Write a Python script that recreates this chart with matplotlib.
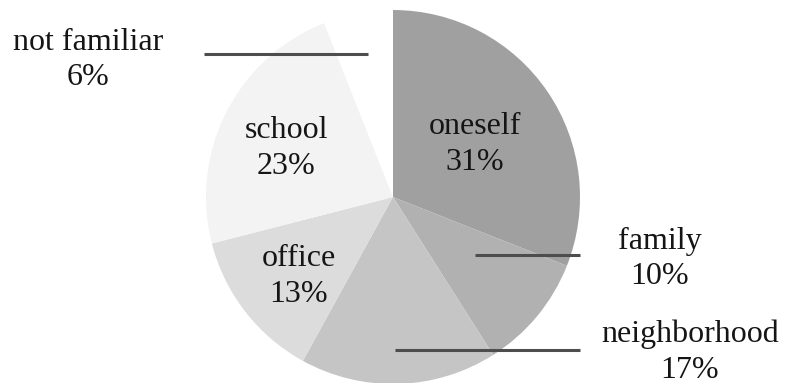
import numpy as np
import matplotlib
matplotlib.use("Agg")
import matplotlib.pyplot as plt

categories = ["oneself", "family", "neighborhood", "office", "school", "not familiar"]
shares = [31, 10, 17, 13, 23, 6]
colors = ["#a0a0a0", "#b1b1b1", "#c5c5c5", "#dcdcdc", "#f3f3f3", "#ffffff"]

W, H = 787, 383
fig = plt.figure(figsize=(W / 100, H / 100), dpi=100)
ax = fig.add_axes([0, 0, 1, 1])

cx, cy, R = 393, H - 197, 187
wedges, _ = ax.pie(shares, colors=colors, startangle=90, counterclock=False,
                   center=(cx, cy), radius=R, labels=None,
                   wedgeprops=dict(linewidth=0))
ax.set_xlim(0, W)
ax.set_ylim(0, H)
ax.set_aspect("auto")
ax.axis("off")

font = dict(family="Liberation Serif", size=23, color="#151515",
            ha="center", va="center", linespacing=1.3)

# labels inside the larger slices: (radius fraction, vertical nudge in px)
inside = {"oneself": (0.53, -3), "school": (0.64, -6), "office": (0.64, -6)}
# labels outside with horizontal leader lines (pixel coordinates)
outside = {
    "not familiar": ((88, 60), (204, 368, 54)),
    "family": ((660, 259), (475, 580, 255)),
    "neighborhood": ((690, 352), (395, 580, 350)),
}

for w, name, v in zip(wedges, categories, shares):
    label = f"{name}\n{v}%"
    if name in inside:
        frac, dy = inside[name]
        ang = np.deg2rad((w.theta1 + w.theta2) / 2)
        r = frac * R
        ax.text(cx + r * np.cos(ang), cy + r * np.sin(ang) + dy, label, **font)
    else:
        (tx, ty), (x0, x1, ly) = outside[name]
        ax.plot([x0, x1], [H - ly, H - ly], color="#4d4d4d", lw=2.2,
                solid_capstyle="butt")
        ax.text(tx, H - ty, label, **font)

fig.savefig("out.png", dpi=100)
